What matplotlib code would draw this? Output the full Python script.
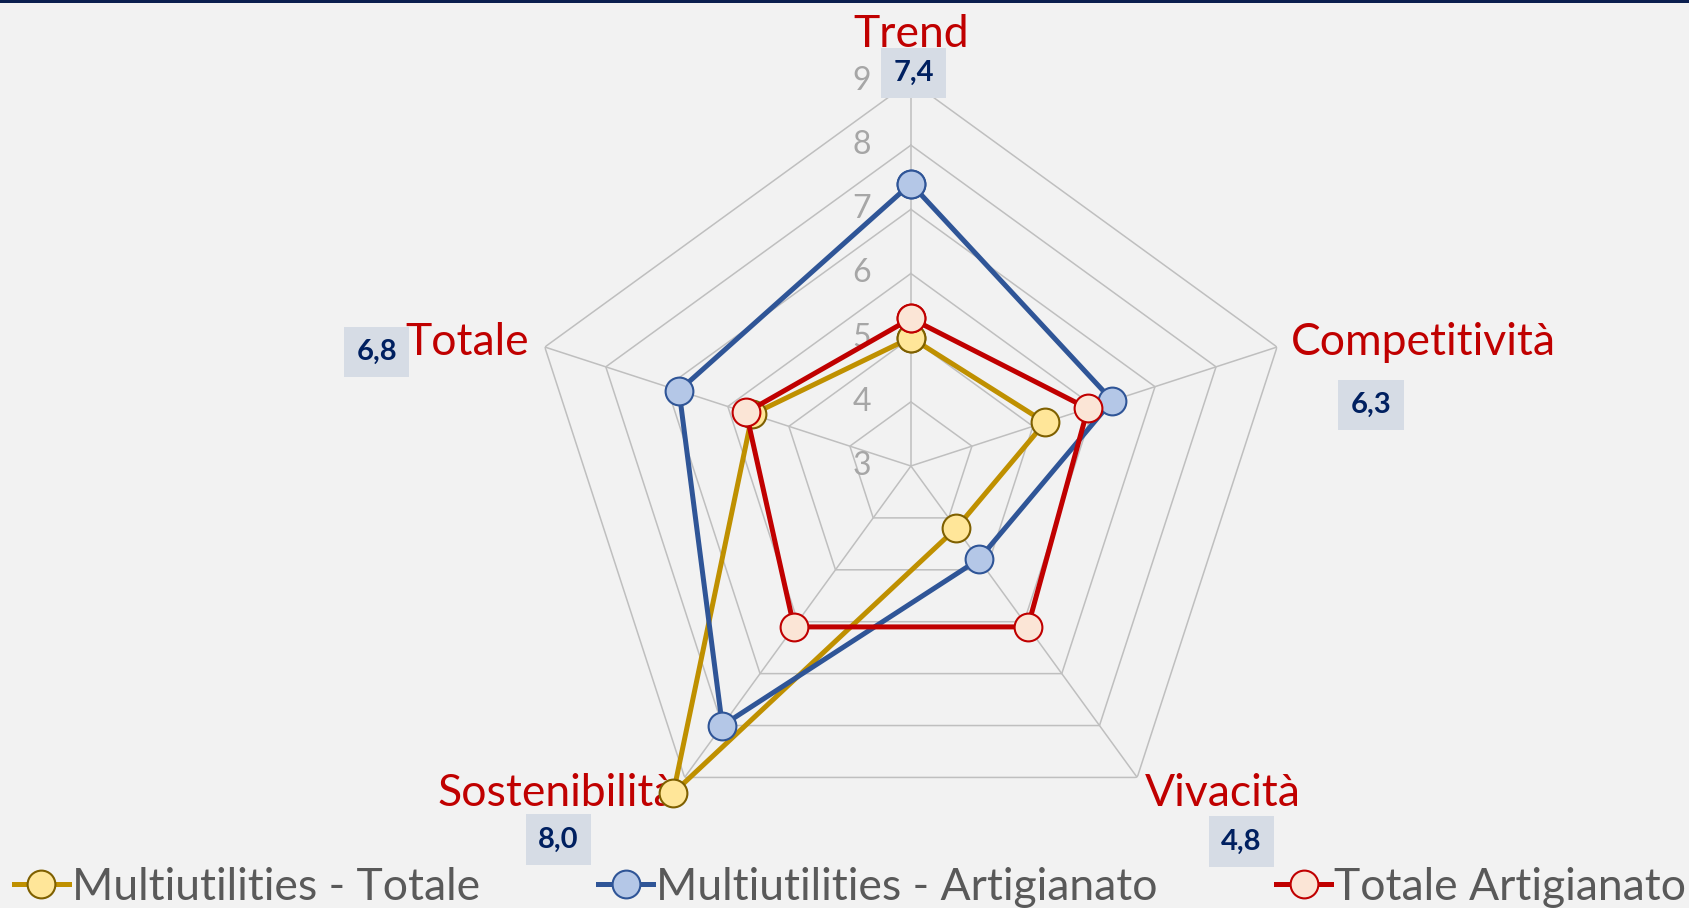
import numpy as np
import matplotlib
matplotlib.use("Agg")
import matplotlib.pyplot as plt
from matplotlib.patches import Rectangle

plt.rcParams['font.family'] = ['Lato', 'DejaVu Sans']

# dati
categorie = ["Trend", "Competitività", "Vivacità", "Sostenibilità", "Totale"]
multi_totale = [5.0, 5.2, 4.2, 9.3, 5.6]
multi_artigianato = [7.4, 6.3, 4.8, 8.0, 6.8]
totale_artigianato = [5.3, 5.9, 6.1, 6.1, 5.7]
serie_nomi = ["Multiutilities - Totale", "Multiutilities - Artigianato", "Totale Artigianato"]
r_min, r_max = 3, 9
r_ticks = [3, 4, 5, 6, 7, 8, 9]

BG = "#F2F2F2"
GRID = "#BFBFBF"

n = len(categorie)
angoli = np.linspace(0, 2 * np.pi, n, endpoint=False)
chiuso = np.append(angoli, angoli[0])

fig = plt.figure(figsize=(16.9, 9.08), dpi=100, facecolor=BG)
ax = fig.add_axes([0.3112, 0.0628, 0.4556, 0.848], projection='polar')
ax.set_facecolor(BG)
ax.set_theta_zero_location('N')
ax.set_theta_direction(-1)
ax.set_ylim(r_min, r_max)
ax.grid(False)
ax.spines['polar'].set_visible(False)
ax.set_xticks([])
ax.set_yticks([])
ax.patch.set_alpha(0)

# griglia pentagonale
for r in r_ticks:
    ax.plot(chiuso, [r] * (n + 1), color=GRID, lw=1.1, zorder=1)
for a in angoli:
    ax.plot([a, a], [r_min, r_max], color=GRID, lw=1.1, zorder=1)

# etichette dell'asse radiale
for r in r_ticks:
    ax.annotate(str(r), xy=(0, r), xytext=(-49, 0), textcoords='offset pixels',
                ha='center', va='center', fontsize=23, color="#A6A6A6", zorder=2)

# etichette delle categorie
cat_pos = [((0, 47), 'center'), ((14, 5), 'left'), ((8, -16), 'left'),
           ((-9, -16), 'right'), ((-16, 5), 'right')]
for a, nome, (off, ha) in zip(angoli, categorie, cat_pos):
    ax.annotate(nome, xy=(a, r_max), xytext=off, textcoords='offset pixels',
                ha=ha, va='center', fontsize=32, color="#C00000", zorder=2,
                annotation_clip=False)

# valori Multiutilities - Artigianato
box_pos = [(3, 8), (94, -58), (104, -64), (-126, -62), (-168, -5)]
for a, v, off in zip(angoli, multi_artigianato, box_pos):
    ax.annotate(f"{v:.1f}".replace(".", ","), xy=(a, r_max), xytext=off,
                textcoords='offset pixels', ha='center', va='center',
                fontsize=21, fontweight='bold', color="#002060", zorder=2,
                annotation_clip=False,
                bbox=dict(boxstyle='square,pad=0.42', fc="#D6DCE5", ec='none'))

# serie
stili = [
    (multi_totale, "#BF9000", "#FFE699", "#7F6000"),
    (multi_artigianato, "#2F5597", "#B4C7E7", "#2F5597"),
    (totale_artigianato, "#C00000", "#FBE5D6", "#C00000"),
]
linee = []
for i, ((vals, lc, fc, ec), nome) in enumerate(zip(stili, serie_nomi)):
    v = np.append(vals, vals[0])
    ln, = ax.plot(chiuso, v, color=lc, lw=3.6, marker='o', markersize=20,
                  markerfacecolor=fc, markeredgecolor=ec, markeredgewidth=1.5,
                  label=nome, zorder=5 + i, clip_on=False)
    linee.append(ln)

leg = fig.legend(handles=linee, loc='center', bbox_to_anchor=(0.503, 21 / 908),
                 ncol=3, frameon=False, fontsize=32, handlelength=1.24,
                 handletextpad=0.07, columnspacing=2.66, borderpad=0,
                 markerscale=1.0)
for t in leg.get_texts():
    t.set_color("#595959")

# bordo superiore
fig.add_artist(Rectangle((0, 1 - 3 / 908), 1, 3 / 908, transform=fig.transFigure,
                         fc="#0B1F4F", ec='none'))

fig.savefig("out.png", dpi=100, facecolor=BG)
